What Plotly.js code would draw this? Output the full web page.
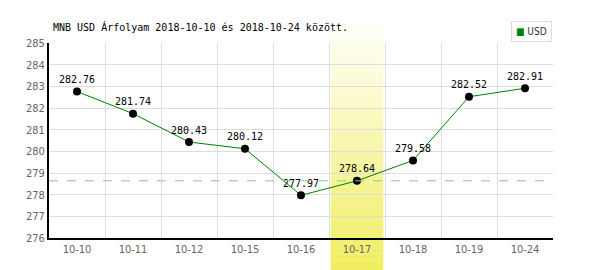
<!DOCTYPE html>
<html><head><meta charset="utf-8">
<script src="https://cdn.plot.ly/plotly-3.0.1.min.js"></script>
<style>html,body{margin:0;padding:0;background:#fff}#chart{width:600px;height:270px}</style>
</head><body><div id="chart"></div>
<script>
var categories = ["10-10","10-11","10-12","10-15","10-16","10-17","10-18","10-19","10-24"];
var rates = [282.76, 281.74, 280.43, 280.12, 277.97, 278.64, 279.58, 282.52, 282.91];
var currentRate = 278.64;
var highlightCategory = "10-17";
var seriesName = "USD";
var titleText = "MNB USD Árfolyam 2018-10-10 és 2018-10-24 között.";

var hi = categories.indexOf(highlightCategory);
var shapes = [];
var N = 30, yTop = 1.108, yBot = -0.164;
for (var i = 0; i < N; i++) {
  var t = i / (N - 1);
  var r = Math.round(255 + (240 - 255) * t);
  var g = Math.round(255 + (238 - 255) * t);
  var b = Math.round(250 + (96 - 250) * t);
  var y1 = yTop - (yTop - yBot) * i / N;
  var y0 = yTop - (yTop - yBot) * (i + 1) / N;
  shapes.push({type:"rect", xref:"x", yref:"paper", x0:hi-0.47, x1:hi+0.47, y0:y0, y1:y1,
    fillcolor:"rgb("+r+","+g+","+b+")", line:{width:0}, layer:"below"});
}
shapes.push({type:"line", xref:"paper", yref:"y", x0:0, x1:1, y0:currentRate, y1:currentRate,
  line:{color:"#88cc88", width:1, dash:"dash"}, layer:"above"});

var traces = [
  {x: categories, y: rates, mode: "lines+markers+text", type: "scatter",
   text: rates.map(function(v){return v.toFixed(2);}), textposition: "top center",
   textfont: {family: "DejaVu Sans Mono", size: 10, color: "#000"},
   line: {color: "#008000", width: 1}, marker: {color: "#000", size: 8},
   showlegend: false, hoverinfo: "none", cliponaxis: false}
];

var layout = {
  width: 600, height: 270,
  margin: {l: 49, r: 47, t: 43, b: 32},
  paper_bgcolor: "#fff", plot_bgcolor: "rgba(0,0,0,0)",
  title: {text: titleText, x: 53/600, xanchor: "left", y: 1 - 27/270, yanchor: "middle",
    font: {family: "DejaVu Sans Mono", size: 10, color: "#000"}},
  xaxis: {type: "category", range: [-0.5, 8.5], tickson: "boundaries", ticks: "",
    showgrid: true, gridcolor: "#dddddd", gridwidth: 1,
    showline: true, linecolor: "#000", linewidth: 2,
    tickfont: {family: "DejaVu Sans Condensed", size: 11, color: "#666666"}, fixedrange: true},
  yaxis: {range: [276, 285], dtick: 1, tick0: 276, ticks: "",
    showgrid: true, gridcolor: "#dddddd", gridwidth: 1, zeroline: false,
    showline: true, linecolor: "#000", linewidth: 2,
    tickfont: {family: "DejaVu Sans Condensed", size: 11, color: "#666666"}, fixedrange: true},
  shapes: shapes,
  showlegend: false,
  annotations: [{
    xref: "paper", yref: "paper", x: (511-49)/504, y: (238-21)/195, xanchor: "left", yanchor: "top",
    text: "<span style='color:#008000'>■</span> " + seriesName, showarrow: false,
    font: {family: "DejaVu Sans Condensed", size: 10, color: "#333"},
    bordercolor: "#dddddd", borderwidth: 1, borderpad: 4, bgcolor: "#fff", align: "left"
  }]
};
Plotly.newPlot("chart", traces, layout, {displayModeBar: false, staticPlot: true});
</script></body></html>
